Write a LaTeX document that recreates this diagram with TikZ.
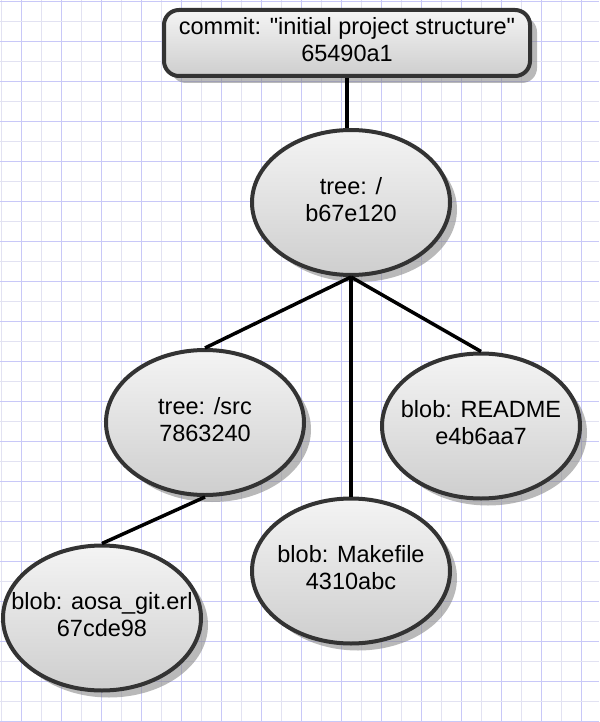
\documentclass[tikz,border=0pt]{standalone}
\usepackage{fontspec}
\newfontfamily\lsans{Liberation Sans}
\usetikzlibrary{shapes.geometric,shadows}
\definecolor{gridA}{RGB}{200,200,248}
\definecolor{gridB}{RGB}{226,226,242}
\definecolor{edgec}{RGB}{51,51,51}
\definecolor{topc}{RGB}{244,244,244}
\definecolor{botc}{RGB}{206,206,206}
\newcommand{\twolines}[2]{\makebox[0pt]{\begin{tabular}{@{}c@{}}#1\\#2\end{tabular}}}
\tikzset{
  objnode/.style={draw=edgec, line width=4pt, top color=topc, bottom color=botc,
    inner sep=0pt, font=\lsans\fontsize{23.5}{27}\selectfont,
    drop shadow={shadow xshift=7pt, shadow yshift=-7pt, fill=black!50, opacity=.55}},
  ellnode/.style={objnode, ellipse, minimum width=198pt, minimum height=145pt},
  commitnode/.style={objnode, rectangle, rounded corners=15pt, minimum width=366pt, minimum height=66pt},
  link/.style={line width=3.5pt, black}
}
\begin{document}
\begin{tikzpicture}[x=1pt,y=-1pt]
  \fill[white] (0,0) rectangle (599,722);
  \useasboundingbox (0,0) rectangle (599,722);
  % grid
  \foreach \i in {0,...,29} {
    \pgfmathsetmacro{\xx}{1.5+20*\i}
    \ifodd\i \def\gc{gridA}\else \def\gc{gridB}\fi
    \draw[\gc, line width=1pt] (\xx,0) -- (\xx,722);
  }
  \foreach \j in {0,...,36} {
    \pgfmathsetmacro{\yy}{1.5+20*\j}
    \ifodd\j \def\gc{gridB}\else \def\gc{gridA}\fi
    \draw[\gc, line width=1pt] (0,\yy) -- (599,\yy);
  }
  % nodes
  \node[commitnode] (commit) at (347,43) {\twolines{commit: "initial project structure"}{65490a1}};
  \node[ellnode] (root) at (351,202.5) {\twolines{tree: /}{b67e120}};
  \node[ellnode] (src) at (205,422.5) {\twolines{tree: /src}{7863240}};
  \node[ellnode] (readme) at (481,426) {\twolines{blob: README}{e4b6aa7}};
  \node[ellnode] (make) at (351,571) {\twolines{blob: Makefile}{4310abc}};
  \node[ellnode] (aosa) at (102,618) {\twolines{blob: aosa\_git.erl}{67cde98}};
  % connectors
  \draw[link] (commit.south) -- (commit.south |- root.north);
  \draw[link] (root.south) -- (src.north);
  \draw[link] (root.south) -- (make.north);
  \draw[link] (root.south) -- (readme.north);
  \draw[link] (src.south) -- (aosa.north);
\end{tikzpicture}
\end{document}
